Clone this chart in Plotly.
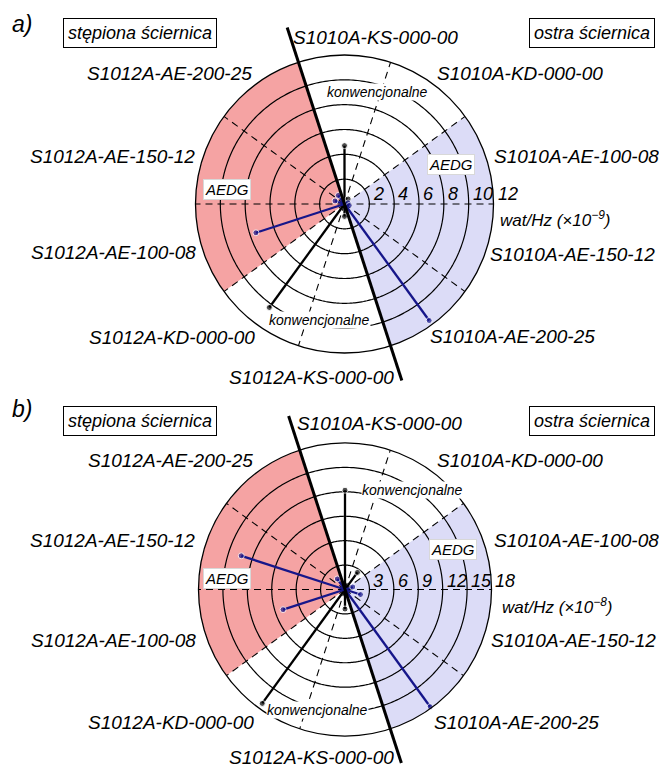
import numpy as np
import plotly.graph_objects as go

# ---------------- data ----------------
categories = [
    "S1010A-KS-000-00", "S1010A-KD-000-00", "S1010A-AE-100-08",
    "S1010A-AE-150-12", "S1010A-AE-200-25", "S1012A-KS-000-00",
    "S1012A-KD-000-00", "S1012A-AE-100-08", "S1012A-AE-150-12",
    "S1012A-AE-200-25",
]
values_a = [4.7, 0.5, 0.3, 0.4, 11.6, 1.0, 10.3, 7.5, 0.8, 0.85]   # ×10^-9 W/Hz
values_b = [12.2, 2.6, 1.0, 2.0, 17.8, 2.4, 17.3, 8.0, 13.4, 1.6]  # ×10^-8 W/Hz
ticks_a = [2, 4, 6, 8, 10, 12]
ticks_b = [3, 6, 9, 12, 15, 18]
unit_a = "wat/Hz (×10<sup>−9</sup>)"
unit_b = "wat/Hz (×10<sup>−8</sup>)"
panel_letters = ["a)", "b)"]
group_blunt = "stępiona ściernica"
group_sharp = "ostra ściernica"
method_conv = "konwencjonalne"
method_aedg = "AEDG"

# ---------------- styling / layout ----------------
W, H = 659, 771
FONT = "Liberation Sans"
PINK = "#F5A3A3"
BLUE = "#DCDCF7"
NAVY = "#16168A"

n = len(categories)
step = 360.0 / n
theta = [i * step for i in range(n)]
boundaries = [t + step / 2 for t in theta]
# separator: where the wheel (S1010A / S1012A) changes
sep = [boundaries[i] for i in range(n)
       if categories[i][:6] != categories[(i + 1) % n][:6]]

panels = [
    dict(sub="polar", cx=344.5, cy=204.0, R=149.0, values=values_a, ticks=ticks_a,
         unit=unit_a, letter=panel_letters[0]),
    dict(sub="polar2", cx=345.0, cy=589.5, R=146.5, values=values_b, ticks=ticks_b,
         unit=unit_b, letter=panel_letters[1]),
]

# label pixel positions
label_pos_a = [(375, 37), (520, 73), (576, 157), (572, 255), (512, 336),
               (311, 377), (172, 337), (113, 253), (112, 157), (169, 73)]
label_pos_b = [(379, 423), (520, 460), (576, 540), (573, 640), (516, 722),
               (311, 757), (171, 722), (113, 640), (112, 540), (170, 460)]
extra_a = dict(aedg=[(226.5, 189), (451, 164)], konw=[(377, 92), (319, 320)],
               unit=(498, 219), tick_dy=-10, box_y=33, letter=(22, 24))
extra_b = dict(aedg=[(226.5, 578.5), (452.5, 549.5)], konw=[(412, 490), (317, 710)],
               unit=(500, 606), tick_dy=-9, box_y=421, letter=(22, 409))

fig = go.Figure()
annotations = []
shapes = []
layout_polars = {}


def px(x):
    return x / W


def py(y):
    return 1 - y / H


for p, lpos, ex in zip(panels, [label_pos_a, label_pos_b], [extra_a, extra_b]):
    sub, cx, cy, R = p["sub"], p["cx"], p["cy"], p["R"]
    rmax = p["ticks"][-1]
    layout_polars[sub] = dict(
        domain=dict(x=[px(cx - R), px(cx + R)], y=[py(cy + R), py(cy - R)]),
        bgcolor="rgba(0,0,0,0)", hole=0,
        radialaxis=dict(range=[0, rmax], visible=False),
        angularaxis=dict(rotation=90, direction="clockwise", thetaunit="degrees",
                         showgrid=False, showticklabels=False, ticks="",
                         showline=True, linecolor="black", linewidth=1.3),
    )
    # sectors for AEDG-ground categories of each wheel
    for prefix, col in (("S1012A", PINK), ("S1010A", BLUE)):
        idx = [i for i, c in enumerate(categories) if c.startswith(prefix) and "-AE-" in c]
        ang = [theta[i] for i in idx]
        mid = np.degrees(np.arctan2(np.mean(np.sin(np.radians(ang))),
                                    np.mean(np.cos(np.radians(ang))))) % 360
        fig.add_trace(go.Barpolar(r=[rmax], theta=[mid], width=[step * len(idx)],
                                  marker=dict(color=col, line=dict(width=0)),
                                  subplot=sub, hoverinfo="skip", showlegend=False))
    # dashed boundaries
    for b in boundaries:
        if b in sep:
            continue
        fig.add_trace(go.Scatterpolar(r=[0, rmax], theta=[b, b], mode="lines",
                                      line=dict(color="black", width=1.1, dash="7px,5px"),
                                      subplot=sub, hoverinfo="skip", showlegend=False))
    # rings
    circ = np.linspace(0, 360, 361)
    for t in p["ticks"][:-1]:
        fig.add_trace(go.Scatterpolar(r=[t] * len(circ), theta=circ, mode="lines",
                                      line=dict(color="black", width=1.2),
                                      subplot=sub, hoverinfo="skip", showlegend=False))
    # data spokes
    for c, v, t in zip(categories, p["values"], theta):
        col = NAVY if "-AE-" in c else "black"
        fig.add_trace(go.Scatterpolar(r=[0, v], theta=[t, t], mode="lines+markers",
                                      line=dict(color=col, width=2.3),
                                      marker=dict(color=col, size=[0, 6]),
                                      subplot=sub, name=c, showlegend=False))
    # thick separator line (extends beyond the wheel)
    L = 1.245 * R
    for b in sep[:1]:
        rad = np.radians(b)
        x0, y0 = cx + L * np.sin(rad), cy - L * np.cos(rad)
        x1, y1 = cx - L * np.sin(rad), cy + L * np.cos(rad)
        shapes.append(dict(type="line", xref="paper", yref="paper",
                           x0=px(x0), y0=py(y0), x1=px(x1), y1=py(y1),
                           line=dict(color="black", width=3)))
    # category labels
    for c, (lx, ly) in zip(categories, lpos):
        annotations.append(dict(x=px(lx), y=py(ly), xref="paper", yref="paper",
                                text=c, showarrow=False, xanchor="center", yanchor="middle",
                                font=dict(family=FONT, size=19, color="black", style="italic")))
    # ring tick labels
    for t in p["ticks"]:
        rx = cx + R * t / rmax
        annotations.append(dict(x=px(rx + 2.0), y=py(cy + ex["tick_dy"]), xref="paper", yref="paper",
                                text=str(t), showarrow=False, xanchor="left", yanchor="middle",
                                font=dict(family=FONT, size=18, color="black", style="italic")))
    ux, uy = ex["unit"]
    annotations.append(dict(x=px(ux), y=py(uy), xref="paper", yref="paper",
                            text=p["unit"], showarrow=False, xanchor="left", yanchor="middle",
                            font=dict(family=FONT, size=17, color="black", style="italic")))
    # method labels
    for (ax, ay) in ex["aedg"]:
        annotations.append(dict(x=px(ax), y=py(ay), xref="paper", yref="paper",
                                text=method_aedg, showarrow=False, xanchor="center", yanchor="middle",
                                bgcolor="white", bordercolor="#d8d8d8", borderwidth=1,
                                borderpad=1,
                                font=dict(family=FONT, size=15, color="black", style="italic")))
    for (kx, ky) in ex["konw"]:
        annotations.append(dict(x=px(kx), y=py(ky), xref="paper", yref="paper",
                                text=method_conv, showarrow=False, xanchor="center", yanchor="middle",
                                bgcolor="white", borderpad=0,
                                font=dict(family=FONT, size=14, color="black", style="italic")))
    # group boxes
    by = ex["box_y"]
    annotations.append(dict(x=px(139.5), y=py(by), xref="paper", yref="paper",
                            text=group_blunt, showarrow=False, xanchor="center", yanchor="middle",
                            bgcolor="white", bordercolor="black", borderwidth=1,
                            borderpad=4,
                            font=dict(family=FONT, size=18, color="black", style="italic")))
    annotations.append(dict(x=px(592), y=py(by), xref="paper", yref="paper",
                            text=group_sharp, showarrow=False, xanchor="center", yanchor="middle",
                            bgcolor="white", bordercolor="black", borderwidth=1,
                            borderpad=4,
                            font=dict(family=FONT, size=18, color="black", style="italic")))
    lx, ly = ex["letter"]
    annotations.append(dict(x=px(lx), y=py(ly), xref="paper", yref="paper",
                            text=p["letter"], showarrow=False, xanchor="center", yanchor="middle",
                            font=dict(family=FONT, size=23, color="black", style="italic")))

fig.update_layout(
    width=W, height=H, autosize=False,
    margin=dict(l=0, r=0, t=0, b=0),
    paper_bgcolor="white", plot_bgcolor="white",
    showlegend=False,
    annotations=annotations, shapes=shapes,
    **layout_polars,
)

fig.write_html("out.html",
               config={"displayModeBar": False},
               post_script="document.body.style.margin='0';document.body.style.overflow='hidden';")
